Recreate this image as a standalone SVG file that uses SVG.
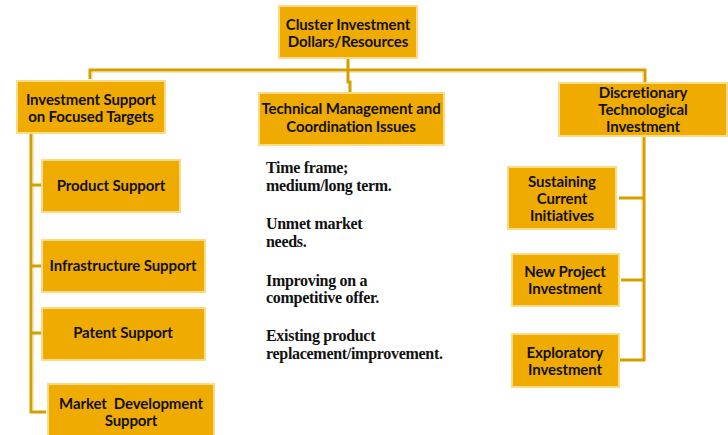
<svg xmlns="http://www.w3.org/2000/svg" width="728" height="435" viewBox="0 0 728 435">
<style>
.box{fill:#F0AB00;stroke:#FADB86;stroke-width:2}
.lbl{font-family:Lato,"Open Sans","Liberation Sans",sans-serif;font-weight:bold;font-size:15px;fill:#111;text-anchor:middle;letter-spacing:-0.1px;white-space:pre}
.note{font-family:"Liberation Serif",serif;font-weight:bold;font-size:16px;fill:#111;letter-spacing:-0.3px}
.ln{fill:none;stroke:#D49E00;stroke-width:3}
.hl{fill:none;stroke:#F5D27A;stroke-width:1}
</style>
<rect width="728" height="435" fill="#fff"/>
<g id="connectors">
<path class="ln" d="M90,79 V70 H645 V84"/>
<path class="hl" d="M92,79 V72 H643 V84"/>
<path class="ln" d="M348,58 V82 H350 V93"/>
<path class="ln" d="M31,133 V412 H46"/>
<path class="hl" d="M33,133 V410"/>
<path class="ln" d="M31,185 H41"/>
<path class="ln" d="M31,266 H41"/>
<path class="ln" d="M31,333 H41"/>
<path class="ln" d="M644,136 V360 H619"/>
<path class="hl" d="M642,136 V358"/>
<path class="ln" d="M644,198 H619"/>
<path class="ln" d="M644,280 H621"/>
</g>
<g id="top">
<rect class="box" x="279" y="6" width="138" height="52"/>
<text class="lbl" x="348" y="30">Cluster Investment</text>
<text class="lbl" x="348" y="47">Dollars/Resources</text>
</g>
<g id="focused">
<rect class="box" x="17" y="81" width="148" height="52"/>
<text class="lbl" x="91" y="105">Investment Support</text>
<text class="lbl" x="91" y="122">on Focused Targets</text>
</g>
<g id="technical">
<rect class="box" x="259" y="93" width="185" height="52"/>
<text class="lbl" x="351" y="114">Technical Management and</text>
<text class="lbl" x="351" y="132">Coordination Issues</text>
</g>
<g id="discretionary">
<rect class="box" x="559" y="83" width="168" height="53"/>
<text class="lbl" x="643" y="98">Discretionary</text>
<text class="lbl" x="643" y="115">Technological</text>
<text class="lbl" x="643" y="132">Investment</text>
</g>
<g id="product">
<rect class="box" x="42" y="160" width="138" height="52"/>
<text class="lbl" x="111" y="191">Product Support</text>
</g>
<g id="infrastructure">
<rect class="box" x="42" y="240" width="163" height="52"/>
<text class="lbl" x="123" y="271">Infrastructure Support</text>
</g>
<g id="patent">
<rect class="box" x="42" y="308" width="163" height="52"/>
<text class="lbl" x="123" y="338">Patent Support</text>
</g>
<g id="market">
<rect class="box" x="48" y="384" width="166" height="56"/>
<text class="lbl" x="131" y="409">Market  Development</text>
<text class="lbl" x="131" y="426">Support</text>
</g>
<g id="sustaining">
<rect class="box" x="508" y="167" width="108" height="62"/>
<text class="lbl" x="562" y="187">Sustaining</text>
<text class="lbl" x="562" y="204">Current</text>
<text class="lbl" x="562" y="221">Initiatives</text>
</g>
<g id="newproject">
<rect class="box" x="512" y="254" width="107" height="52"/>
<text class="lbl" x="565" y="277">New Project</text>
<text class="lbl" x="565" y="294">Investment</text>
</g>
<g id="exploratory">
<rect class="box" x="512" y="334" width="107" height="53"/>
<text class="lbl" x="565" y="358">Exploratory</text>
<text class="lbl" x="565" y="375">Investment</text>
</g>
<g id="notes">
<text class="note" x="266" y="173">Time frame;</text>
<text class="note" x="266" y="191">medium/long term.</text>
<text class="note" x="266" y="229">Unmet market</text>
<text class="note" x="266" y="247">needs.</text>
<text class="note" x="266" y="286">Improving on a</text>
<text class="note" x="266" y="303">competitive offer.</text>
<text class="note" x="266" y="341">Existing product</text>
<text class="note" x="266" y="359">replacement/improvement.</text>
</g>
</svg>
